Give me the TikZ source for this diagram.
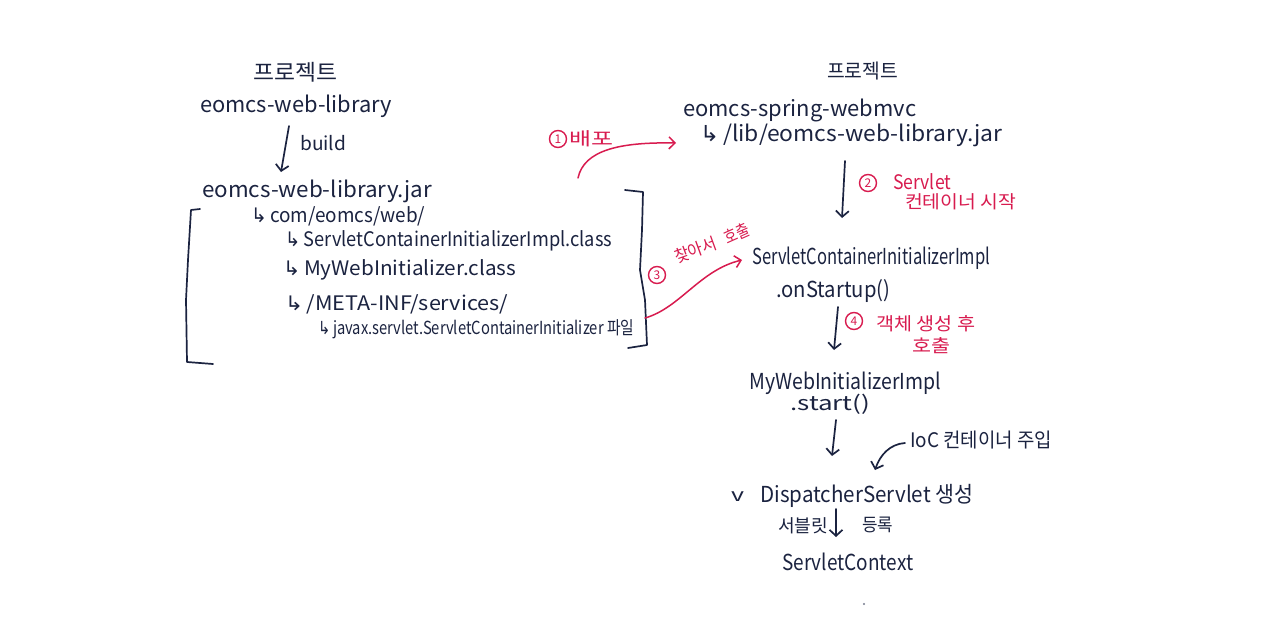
\documentclass[tikz,border=0pt]{standalone}
\usepackage{fontspec}
\setmainfont{Noto Sans CJK KR}
\newfontfamily\symfont{DejaVu Sans}
\usetikzlibrary{arrows.meta}
\definecolor{ink}{HTML}{1B2340}
\definecolor{rd}{HTML}{D81B4F}
\newsavebox\fitbox
\newlength\fitlen
\newcommand\fitx[2]{\sbox\fitbox{#2}\setlength\fitlen{\wd\fitbox}\pgfmathsetmacro\fitsc{#1/\fitlen}\scalebox{\fitsc}[1]{\usebox\fitbox}}
\newcommand\fs[1]{\fontsize{#1}{#1}\selectfont}
\newcommand\hook{{\symfont ↳}\,}
\tikzset{
  txt/.style={inner sep=0pt, anchor=base west, text=ink},
  rtxt/.style={inner sep=0pt, anchor=base west, text=rd},
  inkarrow/.style={-{Straight Barb[length=6pt,width=13pt]}, line width=1.7pt, draw=ink, line cap=round, line join=round},
  redarrow/.style={-{Straight Barb[length=6pt,width=12pt]}, line width=1.5pt, draw=rd, line cap=round, line join=round},
  bracket/.style={line width=1.7pt, draw=ink, line cap=round, line join=round},
  circ/.style={draw=rd, text=rd, circle, inner sep=0pt, minimum size=17pt, line width=1.4pt, font={\fs{12}}},
}
\begin{document}
\begin{tikzpicture}[x=1pt,y=-1pt]
\useasboundingbox[fill=white] (0,0) rectangle (1280,635);

% ---------- left project ----------
\node[txt] (lp) at (253,80) {\fs{22}\fitx{84}{프로젝트}};
\node[txt] (lib) at (200,112) {\fs{22}\fitx{192}{eomcs-web-library}};
\coordinate (b1) at (289,126);
\coordinate (b2) at (281,172);
\draw[inkarrow] (b1) -- (b2);
\node[txt] (build) at (300,150) {\fs{19}\fitx{46}{build}};
\node[txt] (jar) at (202,197) {\fs{22}\fitx{230}{eomcs-web-library.jar}};
\node[txt] (l1) at (251,222) {\fs{20}\fitx{174}{\hook com/eomcs/web/}};
\node[txt] (l2) at (285,246) {\fs{20}\fitx{327}{\hook ServletContainerInitializerImpl.class}};
\node[txt] (l3) at (283,275) {\fs{20}\fitx{233}{\hook MyWebInitializer.class}};
\node[txt] (l4) at (285,310) {\fs{20}\fitx{223}{\hook /META-INF/services/}};
\node[txt] (l5) at (318,334) {\fs{18}\fitx{316}{\hook javax.servlet.ServletContainerInitializer 파일}};

% brackets
\draw[bracket] (200,209) -- (191,210) -- (188,260) -- (186,300) -- (187,362) -- (213,364);
\draw[bracket] (625,190) -- (643,192) -- (642,230) -- (640,270) -- (645,300) -- (647,345) -- (628,348);

% ---------- right project ----------
\node[txt] (rp) at (827,78) {\fs{20}\fitx{71}{프로젝트}};
\node[txt] (mvc) at (683,116) {\fs{22}\fitx{233}{eomcs-spring-webmvc}};
\node[txt] (rlib) at (700,141) {\fs{22}\fitx{302}{\hook /lib/eomcs-web-library.jar}};

\coordinate (a2s) at (845,161);
\coordinate (a2e) at (842,218);
\draw[inkarrow] (a2s) -- (a2e);
\node[circ] (c2) at (868,183) {2};
\node[rtxt] (s2a) at (893,189) {\fs{20}\fitx{58}{Servlet}};
\node[rtxt] (s2b) at (905,208) {\fs{18}\fitx{111}{컨테이너 시작}};

\node[txt] (scii) at (752,264) {\fs{22}\fitx{238}{ServletContainerInitializerImpl}};
\node[txt] (onst) at (776,297) {\fs{22}\fitx{114}{.onStartup()}};

\coordinate (a4s) at (838,307);
\coordinate (a4e) at (834,350);
\draw[inkarrow] (a4s) -- (a4e);
\node[circ] (c4) at (854,321) {4};
\node[rtxt] (s4a) at (876,330) {\fs{18}\fitx{99}{객체 생성 후}};
\node[rtxt] (s4b) at (912,352) {\fs{18}\fitx{38}{호출}};

\node[txt] (mwi) at (749,389) {\fs{22}\fitx{192}{MyWebInitializerImpl}};
\node[txt] (start) at (790,410) {\fs{20}\fitx{80}{.start()}};

\coordinate (a5s) at (836,420);
\coordinate (a5e) at (832,456);
\draw[inkarrow] (a5s) -- (a5e);

\node[txt] (ioc) at (910,447) {\fs{20}\fitx{142}{IoC 컨테이너 주입}};
\coordinate (i1) at (905,443);
\coordinate (i2) at (875,470);
\draw[inkarrow] (i1) .. controls (890,444) and (880,455) .. (i2);

\node[txt] (chk) at (731,501) {\fs{18}\fitx{13}{v}};
\node[txt] (ds) at (760,502) {\fs{22}\fitx{213}{DispatcherServlet 생성}};
\node[txt] (sbl) at (778,532) {\fs{18}\fitx{50}{서블릿}};
\coordinate (a6s) at (836,509);
\coordinate (a6e) at (836,537);
\draw[inkarrow] (a6s) -- (a6e);
\node[txt] (reg) at (862,531) {\fs{18}\fitx{31}{등록}};
\node[txt] (sc) at (782,570) {\fs{22}\fitx{131}{ServletContext}};

\fill[ink!60] (864,604) circle (1.1);

% ---------- red annotations ----------
\node[circ] (c1) at (558,139) {1};
\node[rtxt] (s1) at (569,145) {\fs{18}\fitx{44}{배포}};
\coordinate (r1s) at (578,178);
\coordinate (r1e) at (676,143);
\draw[redarrow] (r1s) .. controls (584,150) and (620,142) .. (r1e);

\node[circ] (c3) at (657,275) {3};
\node[rtxt, rotate=20] (s3a) at (677,264) {\fs{17}\fitx{44}{찾아서}};
\node[rtxt, rotate=24] (s3b) at (727,245) {\fs{17}\fitx{26}{호출}};
\coordinate (r3s) at (645,318);
\coordinate (r3e) at (742,260);
\draw[redarrow] (r3s) .. controls (680,308) and (700,270) .. (r3e);
\end{tikzpicture}
\end{document}
